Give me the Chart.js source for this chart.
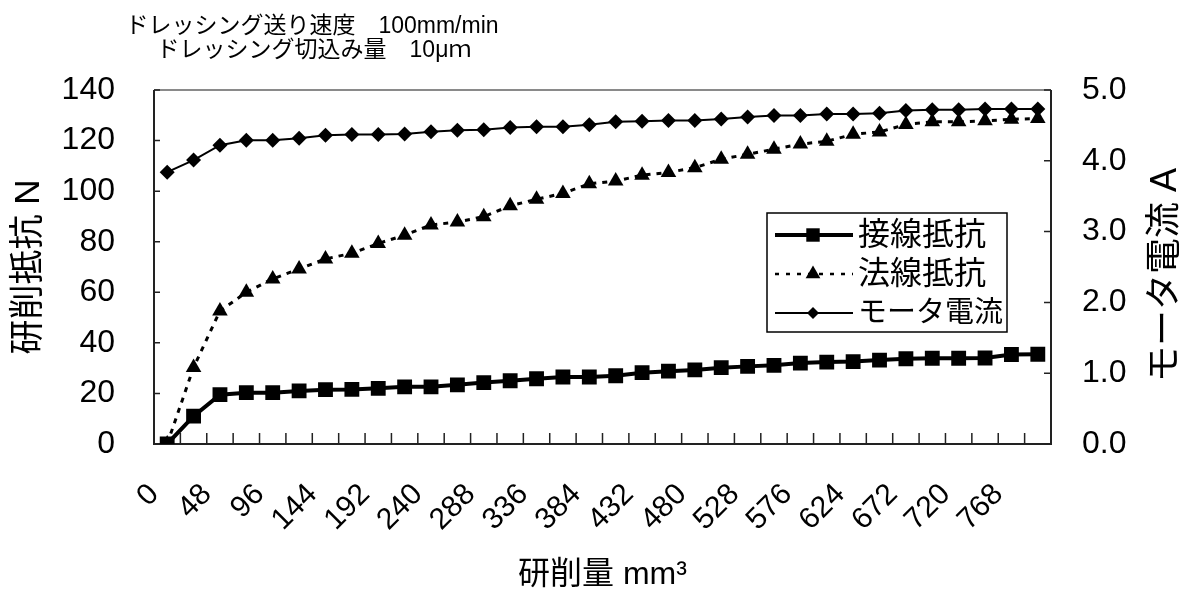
<!DOCTYPE html>
<html><head><meta charset="utf-8">
<script src="https://cdn.jsdelivr.net/npm/chart.js@4/dist/chart.umd.min.js"></script>
<style>html,body{margin:0;padding:0;background:#fff}canvas{display:block}</style>
</head><body>
<canvas id="c" width="1184" height="591"></canvas>
<script>
// ---- data ----
const categories = ['0','24','48','72','96','120','144','168','192','216','240','264','288','312','336','360','384','408','432','456','480','504','528','552','576','600','624','648','672','696','720','744','768','792'];
const tangentialForce = [0,11,19.5,20.3,20.3,21,21.5,21.6,22,22.6,22.6,23.4,24.3,25,25.8,26.5,26.5,27,28.2,28.8,29.3,30.2,30.7,31.1,32,32.4,32.6,33.2,33.7,33.9,33.9,34,35.4,35.5];
const normalForce = [0,30.3,52.6,60,65.3,69.2,73.2,75.4,79.3,82.6,86.6,87.8,89.9,94.2,96.8,99.1,102.9,104,106.3,107.4,109.3,112.6,114.6,116.6,118.6,119.7,122.5,123.4,126.4,127.4,127.4,127.8,128.4,128.7];
const motorCurrent = [3.84,4.01,4.22,4.29,4.29,4.32,4.36,4.37,4.37,4.38,4.41,4.43,4.44,4.47,4.48,4.48,4.51,4.55,4.56,4.57,4.57,4.59,4.62,4.64,4.64,4.66,4.66,4.67,4.71,4.72,4.72,4.73,4.73,4.73];
const seriesNames = ['接線抵抗','法線抵抗','モータ電流'];
const leftAxisTitle = '研削抵抗 N';
const rightAxisTitle = 'モータ電流 A';
const xAxisTitle = '研削量 mm³';
const noteLines = ['ドレッシング送り速度　100mm/min','ドレッシング切込み量　10μｍ'];

const FONT = "'Liberation Sans','Noto Sans CJK JP',sans-serif";

function drawMarker(ctx, style, x, y, r){
  ctx.beginPath();
  if(style==='rect'){const s=r*Math.SQRT1_2;ctx.rect(x-s,y-s,2*s,2*s);}
  else if(style==='triangle'){ctx.moveTo(x,y-r);ctx.lineTo(x+r*Math.sin(2*Math.PI/3),y+r*0.5);ctx.lineTo(x-r*Math.sin(2*Math.PI/3),y+r*0.5);ctx.closePath();}
  else {ctx.moveTo(x-r,y);ctx.lineTo(x,y-r);ctx.lineTo(x+r,y);ctx.lineTo(x,y+r);ctx.closePath();}
  ctx.fill();
}

const bgPlugin = {id:'bg', beforeDraw(chart){const c=chart.ctx;c.save();c.fillStyle='#fff';c.fillRect(0,0,chart.width,chart.height);c.restore();}};

const framePlugin = {id:'frame', beforeDatasetsDraw(chart){
  const {ctx, chartArea:a, scales} = chart;
  ctx.save();
  ctx.strokeStyle='#8a8a8a'; ctx.lineWidth=2;
  ctx.beginPath(); ctx.moveTo(a.left,a.top); ctx.lineTo(a.right,a.top); ctx.stroke();
  ctx.strokeStyle='#222'; ctx.lineWidth=2;
  ctx.beginPath(); ctx.moveTo(a.left,a.top); ctx.lineTo(a.left,a.bottom); ctx.lineTo(a.right,a.bottom); ctx.lineTo(a.right,a.top); ctx.stroke();
  ctx.lineWidth=1.5;
  ctx.beginPath();
  scales.y.ticks.forEach(t=>{const py=scales.y.getPixelForValue(t.value); ctx.moveTo(a.left,py); ctx.lineTo(a.left+6,py);});
  scales.y1.ticks.forEach(t=>{const py=scales.y1.getPixelForValue(t.value); ctx.moveTo(a.right,py); ctx.lineTo(a.right-7,py);});
  const x=scales.x;
  for(let i=0;i<categories.length-1;i++){const px=(x.getPixelForValue(i)+x.getPixelForValue(i+1))/2; ctx.moveTo(px,a.bottom); ctx.lineTo(px,a.bottom-11);}
  ctx.stroke();
  ctx.restore();
}};

const textPlugin = {id:'texts', afterDraw(chart){
  const ctx=chart.ctx;
  ctx.save(); ctx.fillStyle='#000';
  ctx.font="23px "+FONT; ctx.textAlign='center'; ctx.textBaseline='middle';
  ctx.fillText(noteLines[0],312,27);
  ctx.fillText(noteLines[1],314,51);
  ctx.translate(1166,275); ctx.rotate(-Math.PI/2);
  ctx.font="36px "+FONT; ctx.fillText(rightAxisTitle,0,0);
  ctx.restore();
}};

const legendPlugin = {id:'customLegend', afterDatasetsDraw(chart){
  const ctx=chart.ctx;
  const bx=767, by=213, bw=240, bh=119;
  ctx.save();
  ctx.fillStyle='#fff'; ctx.fillRect(bx,by,bw,bh);
  ctx.strokeStyle='#000'; ctx.lineWidth=1.5; ctx.strokeRect(bx,by,bw,bh);
  const legendStyle=[{lw:4,dash:[],r:9.5},{lw:2.5,dash:[4,7],r:8.5},{lw:2,dash:[],r:6}];
  chart.data.datasets.forEach((ds,i)=>{
    const y=235+i*39, st=legendStyle[i];
    ctx.strokeStyle='#000'; ctx.lineWidth=st.lw; ctx.setLineDash(st.dash);
    ctx.beginPath(); ctx.moveTo(775,y); ctx.lineTo(853,y); ctx.stroke();
    ctx.setLineDash([]); ctx.fillStyle='#000';
    drawMarker(ctx, ds.pointStyle, 813, y, st.r);
    ctx.font=(i===2?"29px ":"32px ")+FONT; ctx.textAlign='left'; ctx.textBaseline='middle';
    ctx.fillText(ds.label, 858, y+1);
  });
  ctx.restore();
}};

new Chart(document.getElementById('c').getContext('2d'), {
  type:'line',
  data:{labels:categories, datasets:[
    {label:seriesNames[0], data:tangentialForce, yAxisID:'y', borderColor:'#000', backgroundColor:'#000', borderWidth:4, pointStyle:'rect', pointRadius:10.5, pointBackgroundColor:'#000', pointBorderColor:'#000', pointBorderWidth:0, tension:0},
    {label:seriesNames[1], data:normalForce, yAxisID:'y', borderColor:'#000', backgroundColor:'#000', borderWidth:3, borderDash:[5,6], pointStyle:'triangle', pointRadius:9, pointBackgroundColor:'#000', pointBorderColor:'#000', pointBorderWidth:0, tension:0},
    {label:seriesNames[2], data:motorCurrent, yAxisID:'y1', borderColor:'#000', backgroundColor:'#000', borderWidth:2, pointStyle:'rectRot', pointRadius:7.5, pointBackgroundColor:'#000', pointBorderColor:'#000', pointBorderWidth:0, tension:0}
  ]},
  options:{
    responsive:false, animation:false, devicePixelRatio:1,
    layout:{padding:{top:90,left:0,right:0,bottom:0}},
    plugins:{legend:{display:false}, tooltip:{enabled:false}, title:{display:false}},
    scales:{
      x:{type:'category', offset:true,
        grid:{display:false, drawTicks:false}, border:{display:false},
        ticks:{autoSkip:false, maxRotation:45, minRotation:45, padding:33, labelOffset:-13, color:'#000', font:{family:FONT,size:30},
          callback(v,i){return i%2===0?this.getLabelForValue(v):'';}},
        title:{display:true, text:xAxisTitle, color:'#000', font:{family:FONT,size:32,lineHeight:1}, padding:{top:0,bottom:0}},
        afterFit(s){s.height=147;}
      },
      y:{position:'left', min:0, max:140,
        grid:{display:false, drawTicks:false}, border:{display:false},
        ticks:{stepSize:20, padding:39, color:'#000', font:{family:FONT,size:32}},
        title:{display:true, text:leftAxisTitle, color:'#000', font:{family:FONT,size:35}, padding:{top:8,bottom:0}},
        afterFit(s){s.width=154;}
      },
      y1:{position:'right', min:0, max:5,
        grid:{display:false, drawTicks:false}, border:{display:false},
        ticks:{stepSize:1, padding:31, color:'#000', font:{family:FONT,size:32}, callback:v=>Number(v).toFixed(1)},
        afterFit(s){s.width=133;}
      }
    }
  },
  plugins:[bgPlugin, framePlugin, legendPlugin, textPlugin]
});
</script>
</body></html>
